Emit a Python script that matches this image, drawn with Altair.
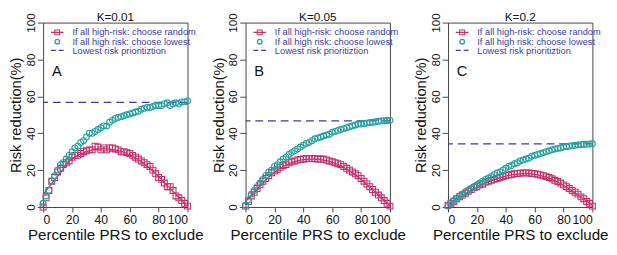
import altair as alt
import pandas as pd

pct = [0, 2, 4, 6, 8, 10, 12, 14, 16, 18, 20, 22, 24, 26, 28, 30, 32, 34, 36, 38, 40,
       42, 44, 46, 48, 50, 52, 54, 56, 58, 60, 62, 64, 66, 68, 70, 72, 74, 76, 78, 80,
       82, 84, 86, 88, 90, 92, 94, 96, 98, 100]

a_random = [0, 5, 9, 14, 16, 19, 21, 23, 24, 25, 27, 28, 28, 29, 30, 30.5, 31, 31, 33, 32.5, 31,
            32, 31, 32, 32, 31.5, 31, 30, 30, 29.5, 29, 28, 27, 26, 25, 24, 23, 22, 20, 18, 16,
            15, 13, 11, 11, 9, 6, 5, 3.5, 2, 0.5]
a_lowest = [2, 6, 9, 14, 17, 20, 23, 24, 26, 28, 30, 32, 33, 35, 36, 38, 40, 40, 41, 42, 43,
            44, 44, 46, 47, 48, 48.5, 49, 49.5, 50, 50.5, 51, 51.5, 52, 53, 53.5, 54, 54, 54.5, 55, 55,
            55, 56, 56.5, 55, 56, 56.5, 56, 57, 57, 57.5]
b_random = [0.5, 3, 6, 8, 10, 12, 14, 15.5, 17, 18.5, 19.5, 20.5, 21.5, 22.5, 23, 24, 24.5, 25, 25.5, 25.8, 26,
            26.2, 26.3, 26.3, 26.2, 26, 26, 26, 25.5, 25, 24.5, 24, 23.5, 23, 22, 21, 20, 19, 18, 17, 15.5,
            14, 12.5, 11, 9.5, 8, 6.5, 5, 3.5, 2, 0.5]
b_lowest = [1, 4, 7, 9, 11, 13, 15, 17, 19, 20, 22, 23, 24.5, 26, 27, 28.5, 29.5, 30.5, 31.5, 32.5, 33.5,
            34.5, 35, 36, 37, 37.5, 38, 38.5, 39, 39.5, 40.5, 41, 41.5, 42, 42.5, 43, 43.5, 44, 44.5, 45, 45,
            45.3, 45.5, 45.8, 46, 46.2, 46.5, 46.6, 46.8, 46.9, 47]
c_random = [1, 2, 3, 4.5, 5.5, 6.5, 7.5, 8.5, 9.5, 10.5, 11, 12, 12.5, 13.5, 14, 14.5, 15, 15.5, 16, 16.5, 17,
            17.3, 17.6, 18, 18.2, 18.3, 18.5, 18.5, 18.4, 18.2, 18, 17.8, 17.4, 17, 16.5, 16, 15.3, 14.5, 13.8, 13, 12,
            11, 10, 9, 8, 7, 5.5, 4.5, 3, 2, 0.5]
c_lowest = [0.5, 2, 3.5, 4.5, 6, 7, 8, 9, 10, 11, 12, 13, 14, 15, 15.8, 16.5, 17.5, 18.5, 19, 20, 21,
            22, 22.5, 23.5, 24, 25, 25.5, 26, 26.5, 27.5, 28, 28.5, 29, 29.5, 30, 30.5, 31, 31.5, 31.8, 32, 32.5,
            32.8, 33, 33.3, 33.5, 33.7, 33.8, 34, 34, 34.2, 34.3]

prioritization = [56.7, 46.7, 34.2]
panel_titles = ["K=0.01", "K=0.05", "K=0.2"]
panel_letters = ["A", "B", "C"]
legend_labels = ["If all high-risk: choose random", "If all high risk: choose lowest",
                 "Lowest risk prioritiztion"]
axis_ticks = [0, 20, 40, 60, 80, 100]

randoms = [a_random, b_random, c_random]
lowests = [a_lowest, b_lowest, c_lowest]

MAG = "#c4306c"
TEAL = "#22a19e"
NAVY = "#3c3c9c"
FONT = "Liberation Sans"
W, H = 148, 189


def one(label):
    return pd.DataFrame({"label": [label]})


def panel(i):
    df = pd.DataFrame({
        "pct": pct * 2,
        "value": randoms[i] + lowests[i],
        "series": ["random"] * len(pct) + ["lowest"] * len(pct),
    })
    xenc = alt.X("pct:Q", scale=alt.Scale(domain=[0, 100], nice=False, zero=False),
                 axis=alt.Axis(values=axis_ticks, title="Percentile PRS to exclude",
                               tickSize=5, labelPadding=2, labelFontSize=12.5,
                               titleFontSize=15.5, titlePadding=2))
    yenc = alt.Y("value:Q", scale=alt.Scale(domain=[0, 100], nice=False),
                 axis=alt.Axis(values=axis_ticks, title="Risk reduction(%)",
                               tickSize=6, labelPadding=0, labelFontSize=12,
                               labelAngle=270, labelAlign="center", labelBaseline="bottom",
                               titleFontSize=15, titlePadding=1))
    base = alt.Chart(df)
    rule = alt.Chart(pd.DataFrame({"value": [prioritization[i]]})).mark_rule(
        color=NAVY, strokeWidth=1.3, strokeDash=[8, 5]).encode(y=yenc)
    line = base.transform_filter(alt.datum.series == "random").transform_loess(
        "pct", "value", bandwidth=0.35).mark_line(color=MAG, strokeWidth=1.3).encode(x=xenc, y=yenc)
    sq = base.transform_filter(alt.datum.series == "random").mark_point(
        shape="square", filled=False, size=36, color=MAG, strokeWidth=1.1, opacity=1).encode(x=xenc, y=yenc)
    ci = base.transform_filter(alt.datum.series == "lowest").mark_point(
        shape="circle", filled=False, size=36, color=TEAL, strokeWidth=1.1, opacity=1).encode(x=xenc, y=yenc)

    # legend (inside plot, top-left)
    leg_line = alt.Chart(one("l1")).mark_rule(color=MAG, strokeWidth=1.3).encode(
        x=alt.value(8), x2=alt.value(21), y=alt.value(10))
    leg_sq = alt.Chart(one("s")).mark_point(shape="square", filled=False, size=25, color=MAG,
                                            strokeWidth=1.1, opacity=1).encode(
        x=alt.value(14.5), y=alt.value(10))
    leg_ci = alt.Chart(one("c")).mark_point(shape="circle", filled=False, size=22, color=TEAL,
                                            strokeWidth=1.3, opacity=1).encode(
        x=alt.value(14.5), y=alt.value(19.5))
    leg_dash = alt.Chart(one("d")).mark_rule(color=NAVY, strokeWidth=1.3, strokeDash=[5, 3]).encode(
        x=alt.value(8), x2=alt.value(21), y=alt.value(28.5))
    texts = []
    for k, yy in enumerate([10, 19.5, 29]):
        texts.append(alt.Chart(one(legend_labels[k])).mark_text(
            align="left", baseline="middle", fontSize=9.5, font=FONT, color=NAVY).encode(
            x=alt.value(30), y=alt.value(yy), text="label:N"))
    letter = alt.Chart(one(panel_letters[i])).mark_text(
        align="left", baseline="middle", fontSize=15, font=FONT, color="#111").encode(
        x=alt.value(9), y=alt.value(50), text="label:N")
    title = alt.Chart(one(panel_titles[i])).mark_text(
        align="center", baseline="middle", fontSize=12, font=FONT, color="#111").encode(
        x=alt.value(W / 2), y=alt.value(-5.5), text="label:N")

    return alt.layer(rule, line, sq, ci, leg_line, leg_sq, leg_ci, leg_dash, *texts, letter, title).properties(
        width=W, height=H)


chart = alt.HConcatChart(hconcat=[panel(0), panel(1), panel(2)], spacing=59.5, bounds="flush").properties(
    padding=0
).configure_view(stroke="#444", strokeWidth=1).configure_axis(
    domain=False, grid=False, tickColor="#444", labelColor="#111", titleColor="#111",
    labelFont=FONT, titleFont=FONT, titleFontWeight="normal"
)

chart.save("out.html", embed_options={"renderer": "svg", "actions": False})
